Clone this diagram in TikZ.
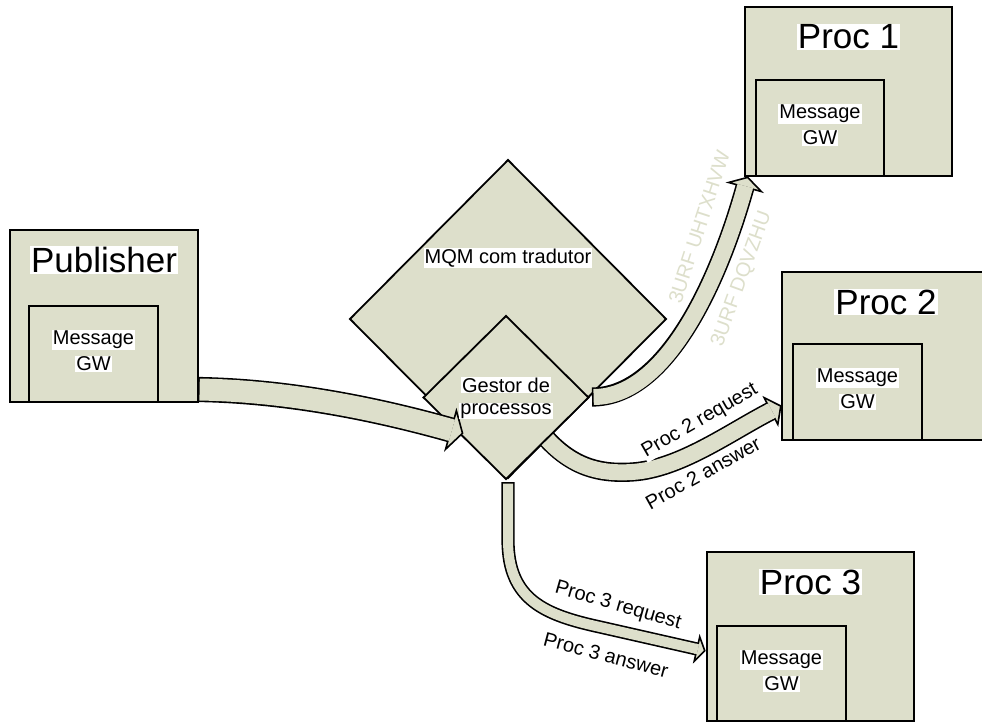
\documentclass[tikz,border=0pt]{standalone}
\usepackage{fontspec}
\setmainfont{Liberation Sans}
\usetikzlibrary{shapes.geometric,decorations.markings}

\definecolor{boxfill}{RGB}{221,223,203}

\tikzset{
  outerbox/.style={draw=black, fill=boxfill, line width=2.6pt, inner sep=0pt, outer sep=0pt},
  innerbox/.style={draw=black, fill=boxfill, line width=2.2pt, inner sep=0pt, outer sep=0pt,
                   minimum width=129pt, minimum height=96pt},
  gem/.style={diamond, draw=black, fill=boxfill, line width=1.8pt, inner sep=0pt, outer sep=0pt},
  title/.style={fill=white, inner sep=1pt, font=\fontsize{35}{40}\selectfont},
  lbl/.style={fill=white, inner sep=1pt, font=\fontsize{20}{24}\selectfont},
  ghost/.style={text=boxfill, inner sep=0pt, font=\fontsize{20}{24}\selectfont},
}

% outlined block arrow: #1 shaft width, #2 head width, #3 head length, #4 path
\newcommand{\blockarrow}[4]{%
  \draw[black, line width=#1pt+3.2pt] #4;
  \draw[boxfill, line width=#1pt, shorten <=1.6pt] #4;
  \path[decorate, decoration={markings, mark=at position 0.9999 with {
    \filldraw[fill=boxfill, draw=black, line width=1.6pt, line join=miter]
      (0,-#2/2) -- (#3,0) -- (0,#2/2) -- cycle;
    \fill[boxfill] (-2,-#1/2) rectangle (1,#1/2);
  }}] #4;
}

\begin{document}
\begin{tikzpicture}[x=1pt, y=-1pt]
\useasboundingbox[fill=white] (0,0) rectangle (982,722);

% ---- process boxes ----
\node[outerbox, minimum width=188pt, minimum height=172pt] (pub) at (104,316) {};
\node[innerbox] (pubin) at (93.5,354) {};

\node[outerbox, minimum width=207pt, minimum height=169pt] (p1) at (848.5,91.5) {};
\node[innerbox, minimum width=128pt] (p1in) at (820,128) {};

\node[outerbox, minimum width=208pt, minimum height=168pt] (p2) at (886,356) {};
\node[innerbox] (p2in) at (857.5,392) {};

\node[outerbox, minimum width=207pt, minimum height=169pt] (p3) at (810.5,636.5) {};
\node[innerbox, minimum height=95pt] (p3in) at (781.5,673.5) {};

% ---- message queue manager ----
\node[gem, minimum width=316pt, minimum height=318pt] (mqm) at (508,319) {};

% arrow to Proc 2 runs underneath the process manager
\coordinate (a3s) at (540,431);
\coordinate (a3e) at (771,411);
\blockarrow{16}{30}{11}{(a3s) .. controls (570,468) and (600,474) .. (632,472) .. controls (680,469) and (730,432) .. (a3e)}

\node[gem, minimum width=165pt, minimum height=163pt] (gp) at (506,397.5) {};

% ---- block arrows ----
\coordinate (a1s) at (198,389.5);
\coordinate (a1e) at (451,430);
\blockarrow{22}{40}{12}{(a1s) .. controls (290,391) and (380,410) .. (a1e)}

\coordinate (a2s) at (592,397);
\coordinate (a2e) at (745,187);
\blockarrow{16}{34}{10}{(a2s) .. controls (670,397) and (722,270) .. (a2e)}

\coordinate (a4s) at (508,482);
\coordinate (a4e) at (697,649);
\blockarrow{10}{25}{8}{(a4s) -- (508,540) .. controls (508,600) and (545,615) .. (600,627) -- (a4e)}

% ---- box texts ----
\node[title] (pubt) at ([yshift=-30pt]pub.north) {Publisher};
\node[lbl] (pubm) at ([yshift=-34pt]pubin.north) {Message};
\node[lbl] (pubg) at ([yshift=-58pt]pubin.north) {GW};

\node[title] (p1t) at ([yshift=-30pt]p1.north) {Proc 1};
\node[lbl] (p1m) at ([yshift=-34pt]p1in.north) {Message};
\node[lbl] (p1g) at ([yshift=-58pt]p1in.north) {GW};

\node[title] (p2t) at ([yshift=-30pt]p2.north) {Proc 2};
\node[lbl] (p2m) at ([yshift=-34pt]p2in.north) {Message};
\node[lbl] (p2g) at ([yshift=-58pt]p2in.north) {GW};

\node[title] (p3t) at ([yshift=-30pt]p3.north) {Proc 3};
\node[lbl] (p3m) at ([yshift=-34pt]p3in.north) {Message};
\node[lbl] (p3g) at ([yshift=-58pt]p3in.north) {GW};

\node[lbl] (mqmt) at ([yshift=61pt]mqm.center) {MQM com tradutor};
\node[lbl] (gpa) at ([yshift=12.5pt]gp.center) {Gestor de};
\node[lbl] (gpb) at ([yshift=-13.5pt]gp.center) {processos};

% ---- arrow labels ----
\node[ghost, rotate=72] (g1) at (699,227) {3URF UHTXHVW};
\node[ghost, rotate=70] (g2) at (742,279) {3URF DQVZHU};

\node[lbl, rotate=30] (r2) at (700,421) {Proc 2 request};
\node[lbl, rotate=29] (s2) at (703,473) {Proc 2 answer};
\node[lbl, rotate=-16] (r3) at (618,606) {Proc 3 request};
\node[lbl, rotate=-15] (s3) at (606,655) {Proc 3 answer};
\end{tikzpicture}
\end{document}
